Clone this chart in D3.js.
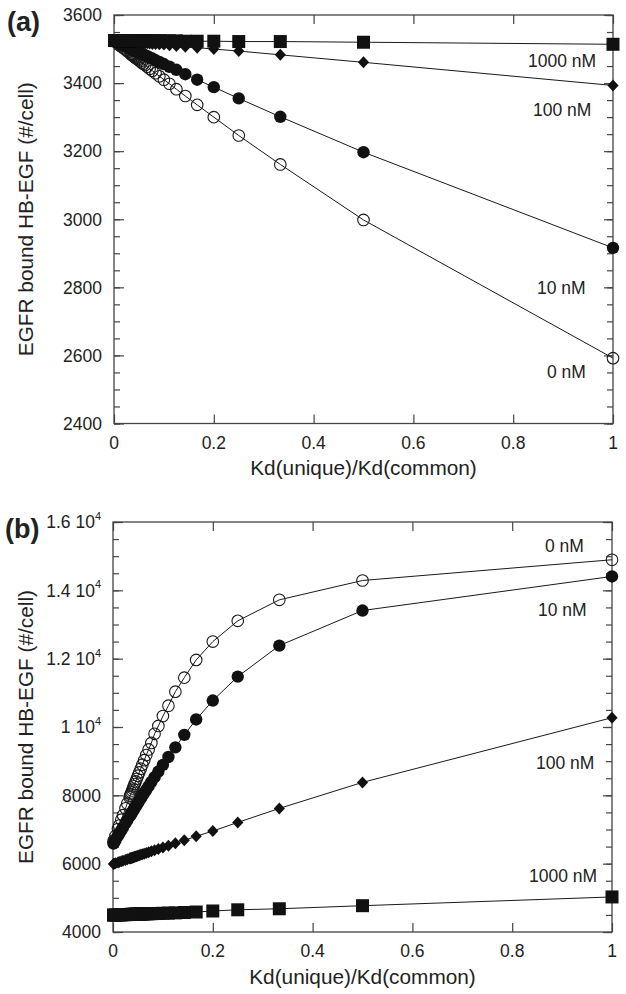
<!DOCTYPE html>
<meta charset="utf-8">

<!-- Load d3.js -->
<script src="https://d3js.org/d3.v7.min.js"></script>

<style>
  body { margin: 0; background: #fff; }
  svg text { font-family: "Liberation Sans", Arial, sans-serif; fill: #222; }
  .tick line { stroke: #444; stroke-width: 1.2; }
</style>

<div id="chart"></div>

<script>
    // Kd(unique)/Kd(common) values shared by every series
    var xVals = [1, 0.5, 0.3333, 0.25, 0.2, 0.1667, 0.1429, 0.125, 0.1111, 0.1,
                 0.0909, 0.0833, 0.0769, 0.0714, 0.0667, 0.0625, 0.0588, 0.0556, 0.0526, 0.05,
                 0.0476, 0.0455, 0.0435, 0.0417, 0.04, 0.0385, 0.037, 0.0357, 0.0345, 0.0333,
                 0.0286, 0.025, 0.02, 0.0167, 0.0125, 0.01, 0.005, 0.002, 0.001];

    // panel (a)
    var a0 = [2592, 2998, 3161, 3246, 3300, 3336, 3362, 3382, 3398, 3410,
              3420, 3429, 3436, 3442, 3448, 3453, 3457, 3460, 3464, 3467,
              3470, 3472, 3474, 3476, 3478, 3480, 3482, 3483, 3485, 3486,
              3492, 3496, 3502, 3505, 3510, 3513, 3519, 3523, 3524];
    var a10 = [2916, 3197, 3301, 3355, 3388, 3410, 3426, 3439, 3448, 3456,
               3462, 3467, 3472, 3475, 3479, 3481, 3484, 3486, 3488, 3490,
               3492, 3493, 3494, 3496, 3497, 3498, 3499, 3500, 3501, 3502,
               3505, 3507, 3511, 3513, 3516, 3518, 3521, 3524, 3524];
    var a100 = [3393, 3461, 3483, 3494, 3500, 3504, 3507, 3509, 3511, 3513,
                3514, 3515, 3515, 3516, 3517, 3517, 3518, 3518, 3518, 3519,
                3519, 3519, 3520, 3520, 3520, 3520, 3520, 3521, 3521, 3521,
                3521, 3522, 3523, 3523, 3523, 3524, 3524, 3525, 3525];
    var a1000 = [3514, 3520, 3522, 3522, 3523, 3523, 3523, 3524, 3524, 3524,
                 3524, 3524, 3524, 3524, 3524, 3524, 3524, 3524, 3524, 3524,
                 3524, 3524, 3524, 3524, 3524, 3525, 3525, 3525, 3525, 3525,
                 3525, 3525, 3525, 3525, 3525, 3525, 3525, 3525, 3525];

    // panel (b)
    var b0 = [14895, 14288, 13722, 13107, 12500, 11964, 11445, 11035, 10624, 10320,
              10030, 9800, 9534, 9344, 9179, 9030, 8897, 8780, 8671, 8575,
              8486, 8407, 8332, 8264, 8200, 8143, 8086, 8035, 7989, 7944,
              7760, 7619, 7420, 7287, 7117, 7015, 6809, 6684, 6642];
    var b10 = [14406, 13409, 12383, 11475, 10775, 10220, 9770, 9404, 9122, 8890,
               8696, 8531, 8391, 8269, 8163, 8068, 7983, 7910, 7840, 7780,
               7724, 7674, 7627, 7585, 7545, 7509, 7474, 7442, 7414, 7385,
               7271, 7184, 7061, 6980, 6876, 6813, 6687, 6611, 6586];
    var b100 = [10273, 8379, 7617, 7207, 6955, 6800, 6682, 6595, 6528, 6474,
                6430, 6393, 6362, 6335, 6312, 6292, 6274, 6258, 6243, 6231,
                6220, 6209, 6199, 6190, 6182, 6176, 6168, 6162, 6156, 6150,
                6127, 6109, 6084, 6068, 6047, 6034, 6010, 5995, 5990];
    var b1000 = [5026, 4770, 4680, 4650, 4615, 4585, 4570, 4560, 4553, 4547,
                 4543, 4540, 4537, 4534, 4532, 4530, 4528, 4526, 4524, 4523,
                 4522, 4520, 4519, 4518, 4517, 4516, 4515, 4514, 4513, 4513,
                 4510, 4508, 4505, 4503, 4501, 4500, 4497, 4495, 4495];

    var seriesNames = ["0 nM", "10 nM", "100 nM", "1000 nM"];
    var markers = ["openCircle", "circle", "diamond", "square"];

    var xTicks = [0, 0.2, 0.4, 0.6, 0.8, 1];
    var xTickLabels = ["0", "0.2", "0.4", "0.6", "0.8", "1"];

    var aTicks = [2400, 2600, 2800, 3000, 3200, 3400, 3600];
    var aTickLabels = ["2400", "2600", "2800", "3000", "3200", "3400", "3600"];
    var aTickSup = ["", "", "", "", "", "", ""];

    var bTicks = [4000, 6000, 8000, 10000, 12000, 14000, 16000];
    var bTickLabels = ["4000", "6000", "8000", "1 10", "1.2 10", "1.4 10", "1.6 10"];
    var bTickSup = ["", "", "", "4", "4", "4", "4"];

    var xTitle = "Kd(unique)/Kd(common)";
    var yTitle = "EGFR bound HB-EGF (#/cell)";

    var svg = d3.select("#chart")
      .append("svg")
        .attr("width", 626)
        .attr("height", 994);

    function drawPanel(p) {
        var w = p.right - p.left,
            h = p.bottom - p.top;
        var g = svg.append("g")
            .attr("transform", "translate(" + p.left + "," + p.top + ")");

        var x = d3.scaleLinear().domain([0, 1]).range([0, w]);
        var y = d3.scaleLinear().domain(p.yDomain).range([h, 0]);
        var minor = d3.range(p.yDomain[0], p.yDomain[1] + 1, p.minorStep);

        // ticks (all pointing inward)
        g.append("g").call(d3.axisLeft(y).tickValues(minor).tickSize(-6).tickFormat(""));
        g.append("g").call(d3.axisLeft(y).tickValues(p.yTicks).tickSize(-10).tickFormat(""));
        g.append("g").attr("transform", "translate(" + w + ",0)")
            .call(d3.axisRight(y).tickValues(minor).tickSize(-6).tickFormat(""));
        g.append("g").attr("transform", "translate(" + w + ",0)")
            .call(d3.axisRight(y).tickValues(p.yTicks).tickSize(-9).tickFormat(""));
        g.append("g").attr("transform", "translate(0," + h + ")")
            .call(d3.axisBottom(x).tickValues(xTicks).tickSize(-9).tickFormat(""));
        g.append("g")
            .call(d3.axisTop(x).tickValues(xTicks).tickSize(-9).tickFormat(""));
        g.selectAll(".domain").remove();

        // frame
        g.append("rect")
            .attr("width", w).attr("height", h)
            .attr("fill", "none").attr("stroke", "#444").attr("stroke-width", 1.3);

        // y tick labels
        p.yTicks.forEach(function(v, i) {
            var t = g.append("text")
                .attr("x", -12).attr("y", y(v)).attr("dy", "0.36em")
                .attr("text-anchor", "end").attr("font-size", "17.5px")
                .text(p.yLabels[i]);
            if (p.ySup[i]) {
                t.append("tspan").attr("dy", "-0.75em").attr("font-size", "11px").text(p.ySup[i]);
            }
        });

        // x tick labels
        xTicks.forEach(function(v, i) {
            g.append("text")
                .attr("x", x(v)).attr("y", h + p.xLabelOff)
                .attr("text-anchor", "middle").attr("font-size", "17.5px")
                .text(xTickLabels[i]);
        });

        // axis titles
        g.append("text")
            .attr("x", w / 2).attr("y", h + p.xTitleOff)
            .attr("text-anchor", "middle").attr("font-size", "20.8px")
            .text(xTitle);
        g.append("text")
            .attr("transform", "translate(" + (33 - p.left) + "," + (h / 2) + ") rotate(-90)")
            .attr("text-anchor", "middle").attr("font-size", "20.8px")
            .text(yTitle);

        // panel letter
        svg.append("text")
            .attr("x", p.letterX).attr("y", p.letterY)
            .attr("font-size", "27px").attr("font-weight", "bold")
            .text(p.letter);

        var line = d3.line()
            .x(function(d) { return x(d[0]); })
            .y(function(d) { return y(d[1]); });

        p.series.forEach(function(vals, si) {
            var pts = xVals.map(function(xv, i) { return [xv, vals[i]]; });
            g.append("path")
                .datum(pts)
                .attr("d", line)
                .attr("fill", "none")
                .attr("stroke", "#1a1a1a")
                .attr("stroke-width", 1);

            var m = g.append("g").selectAll("g")
                .data(pts)
                .enter()
                .append("g")
                .attr("transform", function(d) { return "translate(" + x(d[0]) + "," + y(d[1]) + ")"; });

            var kind = markers[si];
            if (kind === "openCircle") {
                m.append("circle").attr("r", 5.8)
                    .attr("fill", "none").attr("stroke", "#1a1a1a").attr("stroke-width", 1.1);
            } else if (kind === "circle") {
                m.append("circle").attr("r", 6.2).attr("fill", "#111");
            } else if (kind === "diamond") {
                m.append("path").attr("d", "M0,-6L5.6,0L0,6L-5.6,0Z").attr("fill", "#111");
            } else {
                m.append("rect").attr("x", -6.5).attr("y", -6.5)
                    .attr("width", 13).attr("height", 13).attr("fill", "#111");
            }

            // series label
            g.append("text")
                .attr("x", p.labelPos[si][0] - p.left).attr("y", p.labelPos[si][1] - p.top)
                .attr("font-size", "17.5px")
                .text(seriesNames[si]);
        });
    }

    drawPanel({
        letter: "(a)", letterX: 7, letterY: 31,
        left: 114, right: 613, top: 15, bottom: 423.5,
        yDomain: [2400, 3600], minorStep: 50,
        yTicks: aTicks, yLabels: aTickLabels, ySup: aTickSup,
        xLabelOff: 25, xTitleOff: 51.5,
        series: [a0, a10, a100, a1000],
        labelPos: [[547, 378], [537, 294], [533, 116], [528, 67]]
    });

    drawPanel({
        letter: "(b)", letterX: 5, letterY: 538,
        left: 113, right: 612, top: 522, bottom: 932,
        yDomain: [4000, 16000], minorStep: 500,
        yTicks: bTicks, yLabels: bTickLabels, ySup: bTickSup,
        xLabelOff: 25, xTitleOff: 51.5,
        series: [b0, b10, b100, b1000],
        labelPos: [[545, 552], [538, 616], [536, 769], [529, 882]]
    });
</script>
